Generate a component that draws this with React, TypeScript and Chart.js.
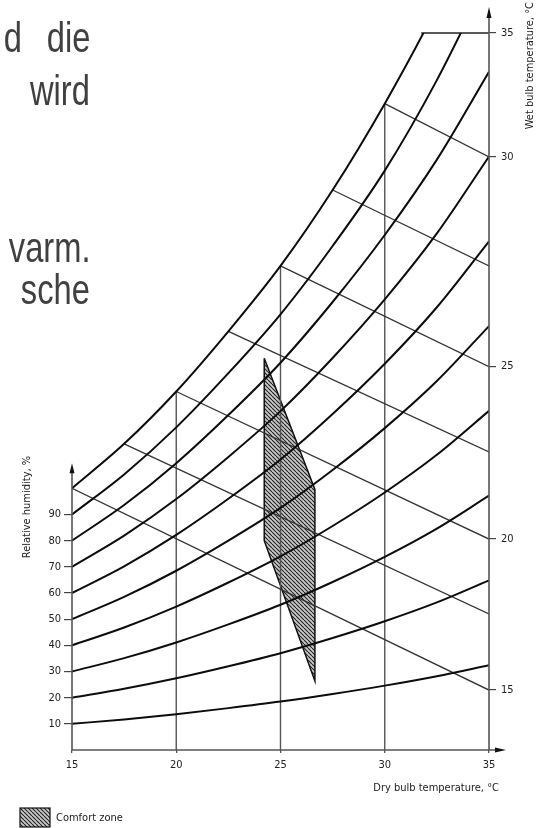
import { useEffect, useRef } from 'react';
import { Chart, registerables } from 'chart.js';

Chart.register(...registerables);

// Dry bulb temperature grid (°C)
const dryBulb = [15, 17.5, 20, 22.5, 25, 27.5, 30, 32.5, 35];
// Relative humidity curves (vertical value, 100 = saturation at 15 °C)
const rh10 = [10, 11.7, 13.7, 16.0, 18.5, 21.4, 24.6, 28.2, 32.4];
const rh20 = [20, 23.4, 27.4, 32.0, 37.0, 42.8, 49.2, 56.4, 64.8];
const rh30 = [30, 35.1, 41.1, 48.0, 55.5, 64.2, 73.8, 84.6, 97.2];
const rh40 = [40, 46.8, 54.8, 64.0, 74.0, 85.6, 98.4, 112.8, 129.6];
const rh50 = [50, 58.5, 68.5, 80.0, 92.5, 107.0, 123.0, 141.0, 162.0];
const rh60 = [60, 70.2, 82.2, 96.0, 111.0, 128.4, 147.6, 169.2, 194.4];
const rh70 = [70, 81.9, 95.9, 112.0, 129.5, 149.8, 172.2, 197.4, 226.8];
const rh80 = [80, 93.6, 109.6, 128.0, 148.0, 171.2, 196.8, 225.6, 259.2];
const rh90 = [90, 105.3, 123.3, 144.0, 166.5, 192.6, 221.4, 256.0, 296.0];
const rh100 = [100, 117, 137, 160, 185, 214, 247, 284, 326];
const rhCurves = [rh10, rh20, rh30, rh40, rh50, rh60, rh70, rh80, rh90, rh100];

// Axis ticks
const xTicks = [15, 20, 25, 30, 35];
const rhTicks = [10, 20, 30, 40, 50, 60, 70, 80, 90];
const wetBulbTickValues = [22.9, 80.6, 146.5, 226.6, 274];
const wetBulbLabels = ['15', '20', '25', '30', '35'];

// Wet bulb lines: start on saturation curve, end on the 35 °C axis
const wetStartT = [15, 17.5, 20, 22.5, 25, 27.5, 30];
const wetStartV = [100, 117, 137, 160, 185, 214, 247];
const wetEndV = [22.9, 52, 80.6, 113.9, 146.5, 185, 226.6];

// Vertical dry bulb grid lines (up to saturation curve)
const gridT = [20, 25, 30];
const gridTopV = [137, 185, 247];

// Top boundary line
const topLineT = [31.75, 35];
const topLineV = 274;

// Comfort zone polygon
const comfortT = [24.22, 26.65, 26.65, 24.22, 24.22];
const comfortV = [149.7, 99.6, 26.4, 80, 149.7];

const FONT = "'DejaVu Sans Condensed', 'DejaVu Sans', sans-serif";

export default function App() {
  const ref = useRef<HTMLCanvasElement>(null);

  useEffect(() => {
    const canvas = ref.current!;
    const ctx = canvas.getContext('2d')!;

    const pc = document.createElement('canvas');
    pc.width = 4;
    pc.height = 4;
    const pctx = pc.getContext('2d')!;
    pctx.fillStyle = '#c8c8c8';
    pctx.fillRect(0, 0, 4, 4);
    pctx.strokeStyle = '#222';
    pctx.lineWidth = 1.1;
    pctx.beginPath();
    for (let k = -1; k <= 1; k++) {
      pctx.moveTo(k * 4, 0);
      pctx.lineTo(k * 4 + 4, 4);
    }
    pctx.stroke();
    const pattern = ctx.createPattern(pc, 'repeat')!;

    const datasets: any[] = [];
    datasets.push({
      label: 'Comfort zone',
      data: comfortT.map((t, i) => ({ x: t, y: comfortV[i] })),
      borderColor: '#111',
      borderWidth: 1.5,
      backgroundColor: pattern,
      fill: 'shape',
      pointRadius: 0,
      tension: 0,
      order: 1,
    });
    rhCurves.forEach((c, k) => {
      datasets.push({
        label: `RH ${(k + 1) * 10}%`,
        data: dryBulb.map((t, i) => ({ x: t, y: c[i] })),
        borderColor: '#0c0c0c',
        borderWidth: 2,
        pointRadius: 0,
        fill: false,
        cubicInterpolationMode: 'monotone',
        order: 0,
      });
    });
    wetStartT.forEach((t, i) => {
      datasets.push({
        label: `WB ${t}`,
        data: [
          { x: t, y: wetStartV[i] },
          { x: 35, y: wetEndV[i] },
        ],
        borderColor: '#333',
        borderWidth: 1.3,
        pointRadius: 0,
        fill: false,
        order: 0,
      });
    });
    gridT.forEach((t, i) => {
      datasets.push({
        label: `T ${t}`,
        data: [
          { x: t, y: 0 },
          { x: t, y: gridTopV[i] },
        ],
        borderColor: '#555',
        borderWidth: 1.4,
        pointRadius: 0,
        fill: false,
        order: 0,
      });
    });
    datasets.push({
      label: 'top',
      data: topLineT.map((t) => ({ x: t, y: topLineV })),
      borderColor: '#222',
      borderWidth: 1.5,
      pointRadius: 0,
      fill: false,
      clip: 4,
      order: 0,
    });

    const decor = {
      id: 'decor',
      afterDraw(chart: any) {
        const c = chart.ctx;
        const ca = chart.chartArea;
        const yS = chart.scales.y;
        c.save();
        c.strokeStyle = '#555';
        c.fillStyle = '#111';
        c.lineWidth = 1.6;
        // left axis
        const y100 = yS.getPixelForValue(100);
        c.beginPath();
        c.moveTo(ca.left, ca.bottom);
        c.lineTo(ca.left, y100 - 18);
        c.stroke();
        c.beginPath();
        c.moveTo(ca.left, y100 - 25);
        c.lineTo(ca.left - 2.5, y100 - 15);
        c.lineTo(ca.left + 2.5, y100 - 15);
        c.closePath();
        c.fill();
        // right axis
        c.beginPath();
        c.moveTo(ca.right, ca.bottom);
        c.lineTo(ca.right, 16);
        c.stroke();
        c.beginPath();
        c.moveTo(ca.right, 7);
        c.lineTo(ca.right - 2.5, 18);
        c.lineTo(ca.right + 2.5, 18);
        c.closePath();
        c.fill();
        // x axis
        c.beginPath();
        c.moveTo(ca.left, ca.bottom);
        c.lineTo(ca.right + 8, ca.bottom);
        c.stroke();
        c.beginPath();
        c.moveTo(ca.right + 17, ca.bottom);
        c.lineTo(ca.right + 6, ca.bottom - 2.5);
        c.lineTo(ca.right + 6, ca.bottom + 2.5);
        c.closePath();
        c.fill();

        // titles
        c.fillStyle = '#222';
        c.font = `11px ${FONT}`;
        c.textBaseline = 'middle';
        c.save();
        c.translate(27, 507);
        c.rotate(-Math.PI / 2);
        c.textAlign = 'center';
        c.fillText('Relative humidity, %', 0, 0);
        c.restore();
        c.save();
        c.translate(530, 2);
        c.rotate(-Math.PI / 2);
        c.textAlign = 'right';
        c.fillText('Wet bulb temperature, °C', 0, 0);
        c.restore();
        c.textAlign = 'right';
        c.fillText('Dry bulb temperature, °C', 499, 788);

        // legend
        c.fillStyle = pattern;
        c.fillRect(20, 808, 30, 19);
        c.strokeStyle = '#111';
        c.lineWidth = 1.2;
        c.strokeRect(20, 808, 30, 19);
        c.fillStyle = '#222';
        c.textAlign = 'left';
        c.font = `11px ${FONT}`;
        c.fillText('Comfort zone', 56, 818);
        c.restore();
      },
    };

    const tickFont = { family: FONT, size: 11 };
    const chart = new Chart(canvas, {
      type: 'line',
      data: { datasets },
      options: {
        animation: false,
        responsive: false,
        maintainAspectRatio: false,
        layout: { padding: { top: 33, left: 0, right: 0, bottom: 0 } },
        plugins: { legend: { display: false }, tooltip: { enabled: false } },
        scales: {
          x: {
            type: 'linear',
            min: 15,
            max: 35,
            position: 'bottom',
            afterBuildTicks: (s: any) => {
              s.ticks = xTicks.map((v) => ({ value: v }));
            },
            afterFit: (s: any) => {
              s.height = 78;
            },
            ticks: { font: tickFont, color: '#222', padding: 6, maxRotation: 0, autoSkip: false },
            grid: { display: true, drawOnChartArea: false, drawTicks: true, tickLength: 3, color: '#555', lineWidth: 1.3 },
            border: { display: false },
          },
          y: {
            type: 'linear',
            min: 0,
            max: 274,
            position: 'left',
            afterBuildTicks: (s: any) => {
              s.ticks = rhTicks.map((v) => ({ value: v }));
            },
            afterFit: (s: any) => {
              s.width = 72;
            },
            ticks: { font: tickFont, color: '#222', padding: 3, autoSkip: false },
            grid: { display: true, drawOnChartArea: false, drawTicks: true, tickLength: 8, color: '#444', lineWidth: 1.2 },
            border: { display: false },
          },
          y2: {
            type: 'linear',
            min: 0,
            max: 274,
            position: 'right',
            afterBuildTicks: (s: any) => {
              s.ticks = wetBulbTickValues.map((v) => ({ value: v }));
            },
            afterFit: (s: any) => {
              s.width = 49;
            },
            ticks: {
              font: tickFont,
              color: '#222',
              padding: 5,
              autoSkip: false,
              callback: (_v: any, i: number) => wetBulbLabels[i],
            },
            grid: { display: true, drawOnChartArea: false, drawTicks: true, tickLength: 7, color: '#444', lineWidth: 1.2 },
            border: { display: false },
          },
        },
      },
      plugins: [decor],
    });
    return () => chart.destroy();
  }, []);

  const textStyle: any = {
    position: 'absolute',
    fontFamily: "'Liberation Sans', Arial, sans-serif",
    fontSize: 43,
    lineHeight: '43px',
    color: '#404040',
    whiteSpace: 'pre',
    transform: 'scaleX(0.76)',
    transformOrigin: 'right center',
  };

  return (
    <div style={{ position: 'absolute', left: 0, top: 0, width: 538, height: 828, overflow: 'hidden', background: '#fff' }}>
      <canvas ref={ref} width={538} height={828} style={{ position: 'absolute', left: 0, top: 0, width: 538, height: 828 }} />
      <div style={{ ...textStyle, right: 516, top: 16 }}>d</div>
      <div style={{ ...textStyle, right: 448, top: 16 }}>die</div>
      <div style={{ ...textStyle, right: 448, top: 69 }}>wird</div>
      <div style={{ ...textStyle, right: 448, top: 226 }}>varm.</div>
      <div style={{ ...textStyle, right: 448, top: 268 }}>sche</div>
    </div>
  );
}
